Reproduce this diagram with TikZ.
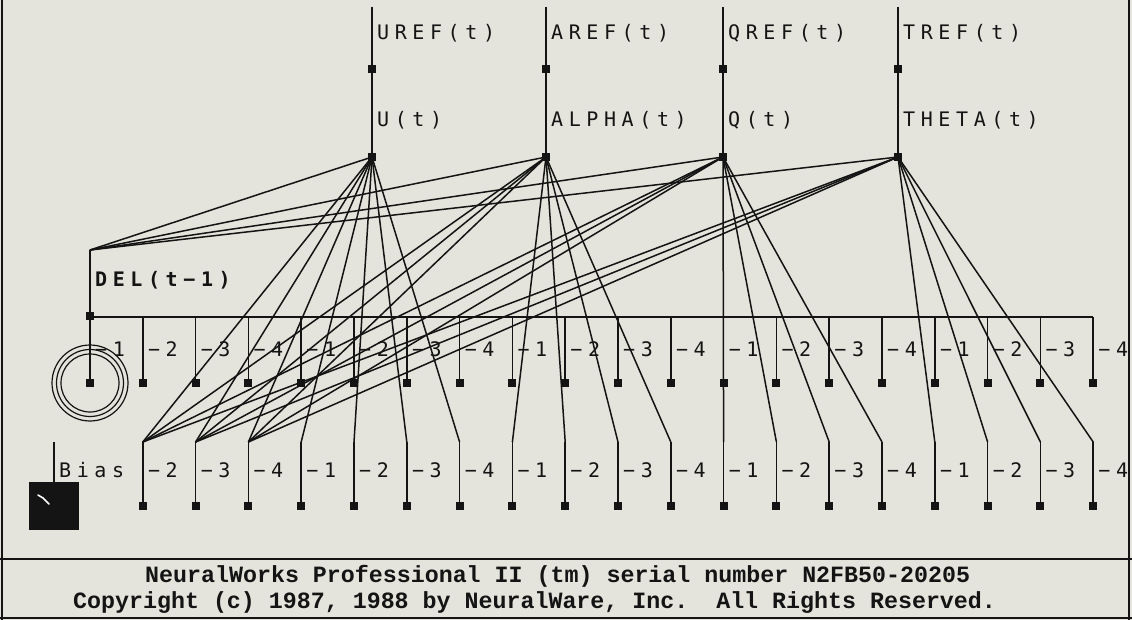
\documentclass[tikz,border=0pt]{standalone}
\usepackage{fontspec}
\newfontfamily\plotfont[LetterSpace=28]{DejaVu Sans Mono}
\newfontfamily\scrfont{Liberation Mono}
\definecolor{bg}{HTML}{E4E4DC}
\definecolor{ink}{HTML}{141414}
\tikzset{
  wire/.style={draw=ink, line width=1.5pt},
  busline/.style={draw=ink, line width=2.8pt},
  pe/.style={fill=ink, rectangle, inner sep=0pt, minimum size=8pt},
  lbl/.style={inner sep=0pt, anchor=base west, text=ink, font=\plotfont\fontsize{20}{20}\selectfont},
  foot/.style={inner sep=0pt, anchor=base west, text=ink, font=\scrfont\bfseries\fontsize{23.3}{23.3}\selectfont},
}
\begin{document}
\begin{tikzpicture}[x=1pt,y=-1pt]
\fill[bg] (0,0) rectangle (1132,620);
\useasboundingbox (0,0) rectangle (1132,620);

% output columns
\foreach \k/\x/\rf/\ou in {1/372/UREF(t)/U(t), 2/546/AREF(t)/ALPHA(t), 3/723/QREF(t)/Q(t), 4/898/TREF(t)/THETA(t)} {
  \coordinate (t\k) at (\x,7);
  \node[pe, minimum size=7.5pt] (r\k) at (\x,69) {};
  \node[pe, minimum size=7.5pt] (o\k) at (\x,157) {};
  \draw[wire] (t\k) -- (r\k.center) -- (o\k.center);
  \node[lbl] (rl\k) at (\x+5,40) {\rf};
  \node[lbl] (ol\k) at (\x+5,127) {\ou};
}

% delay row
\coordinate (deltop) at (90,250);
\foreach \i in {0,...,19} {
  \pgfmathsetmacro\xx{90+52.8*\i}
  \pgfmathtruncatemacro\lab{mod(\i,4)+1}
  \coordinate (b\i) at (\xx,317);
  \node[pe] (m\i) at (\xx,383) {};
  \draw[wire] (b\i) -- (m\i.center);
  \node[lbl] (ml\i) at (\xx+5,356) {−\lab};
}
\draw[busline] (b0) -- (b19);
\node[pe] (del) at (90,316) {};
\draw[wire] (deltop) -- (del.center) -- (m0.center);
\node[lbl, font=\plotfont\bfseries\fontsize{20}{20}\selectfont] (dell) at (95,287) {DEL(t−1)};
\foreach \r in {38,33.5,29} \draw[ink, line width=1.2pt] (m0.center) circle (\r pt);

% lower row
\foreach \i in {1,...,19} {
  \pgfmathsetmacro\xx{90+52.8*\i}
  \pgfmathtruncatemacro\lab{mod(\i,4)+1}
  \coordinate (lt\i) at (\xx,442);
  \node[pe] (l\i) at (\xx,506) {};
  \draw[wire] (lt\i) -- (l\i.center);
  \node[lbl] (ll\i) at (\xx+5,477) {−\lab};
}

% connections
\foreach \k in {1,...,4} {
  \draw[wire] (o\k.center) -- (deltop);
  \foreach \j in {1,2,3} \draw[wire] (o\k.center) -- (lt\j);
  \foreach \n in {0,...,3} {
    \pgfmathtruncatemacro\jj{4*\k+\n}
    \draw[wire] (o\k.center) -- (lt\jj);
  }
}

% bias
\coordinate (biastop) at (54,442);
\node[fill=ink, inner sep=0pt, minimum width=50pt, minimum height=48pt] (biasbox) at (54,506) {};
\draw[wire] (biastop) -- (biasbox.north);
\draw[white, line width=1.6pt, line cap=round] (38,495) -- (43,498) -- (49,504);
\node[lbl] (biasl) at (59,477) {Bias};

% frame and footer
\draw[ink, line width=1.2pt] (2,0) -- (2,620);
\draw[ink, line width=2.5pt] (1129,0) -- (1129,620);
\draw[ink, line width=2pt] (0,559) -- (1132,559);
\draw[ink, line width=2pt] (0,618) -- (1132,618);
\node[foot] (f1) at (145,582) {NeuralWorks Professional II (tm) serial number N2FB50-20205};
\node[foot] (f2) at (73,608) {Copyright (c) 1987, 1988 by NeuralWare, Inc.\ \ All Rights Reserved.};
\end{tikzpicture}
\end{document}
